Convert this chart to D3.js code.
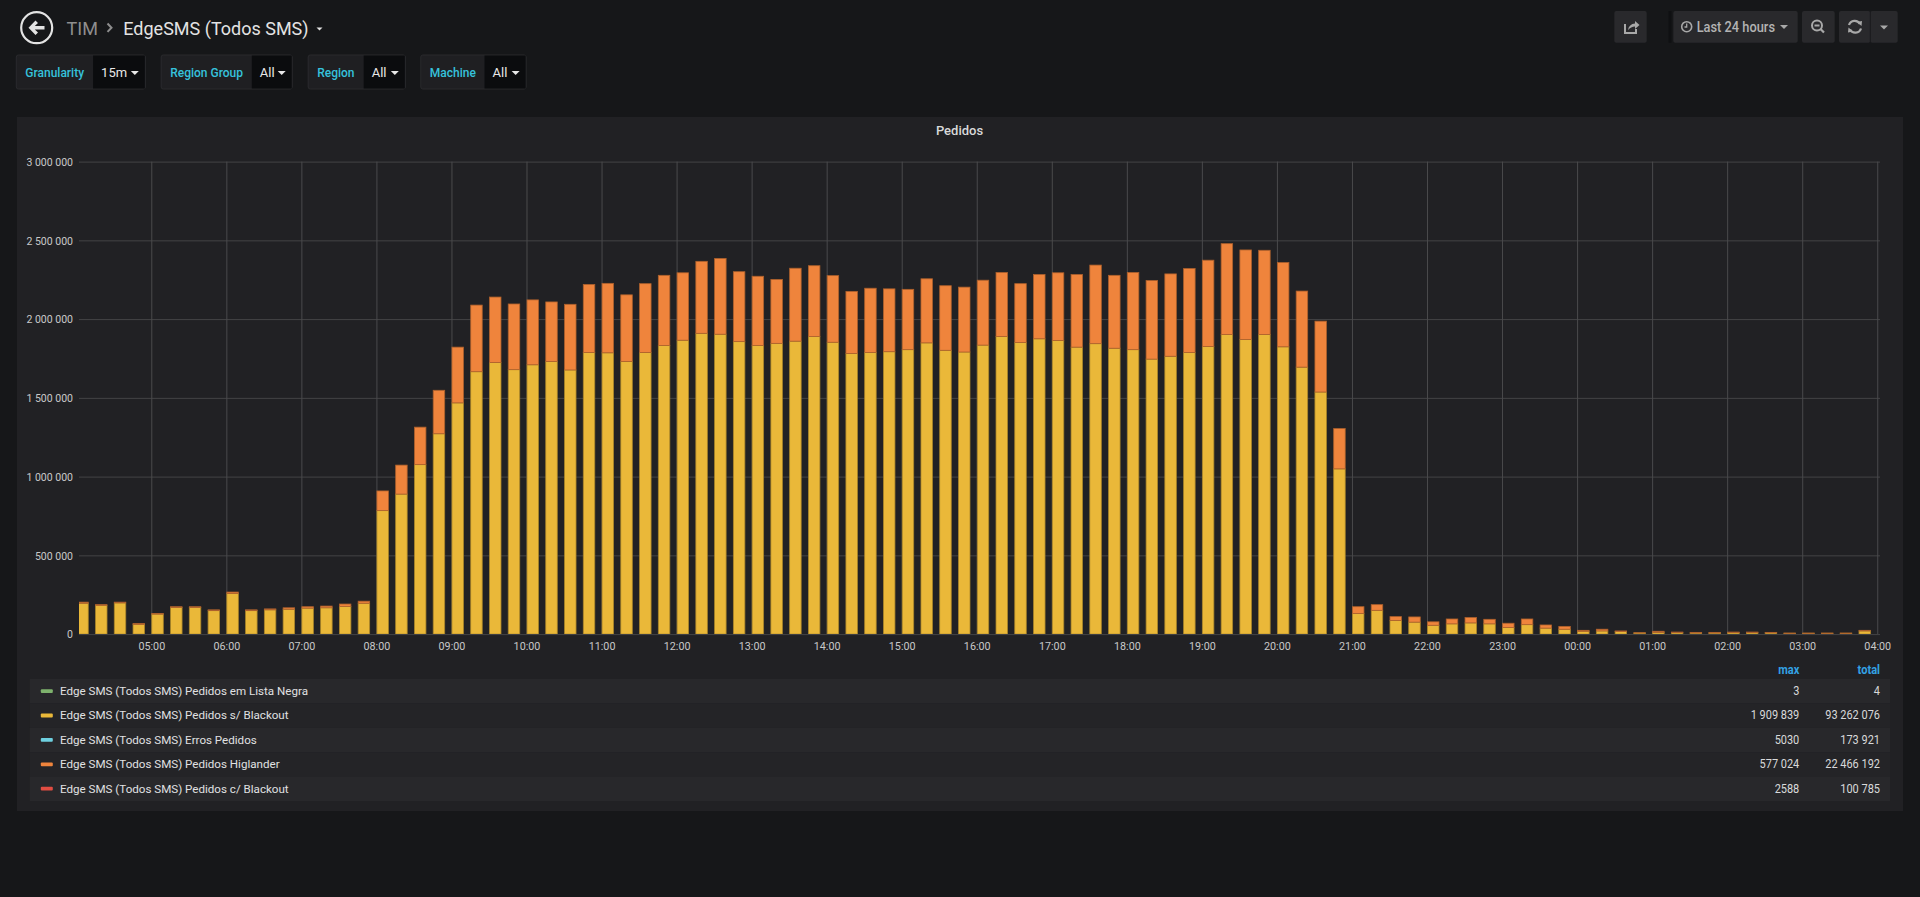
<!DOCTYPE html>
<html>
<head>
<meta charset="utf-8">
<script src="https://cdnjs.cloudflare.com/ajax/libs/d3/7.8.5/d3.min.js"></script>
<style>
  html, body { margin: 0; padding: 0; background: #161719; overflow: hidden; }
  text { font-family: Roboto, "Open Sans", sans-serif; }
</style>
</head>
<body>
<script>
// 15 minute buckets, 04:00 -> 03:45 next day, values in thousands
var UNIT = 1000;
var semBlackout = [196, 183, 198, 62, 127, 169, 169, 149, 258, 149, 154, 158, 165, 167, 176, 196,
  784, 889, 1076, 1272, 1468, 1666, 1724, 1679, 1710, 1731, 1677, 1788, 1786, 1731, 1788, 1833,
  1866, 1909.8, 1904, 1857, 1833, 1846, 1860, 1889, 1853, 1782, 1788, 1793, 1806, 1849, 1802, 1791,
  1835, 1889, 1851, 1875, 1864, 1822, 1844, 1815, 1806, 1746, 1764, 1788, 1826, 1902, 1871, 1902,
  1824, 1695, 1537, 1049, 131, 151, 87, 76, 56, 65, 71, 65, 42, 60, 38, 31,
  18, 20, 16, 7, 11, 9, 7, 7, 9, 9, 8, 5, 5, 5, 5, 20];
var higlander = [7, 4, 5, 5, 4, 5, 5, 5, 9, 5, 6, 9, 9, 11, 15, 13,
  125, 184, 238, 276, 354, 423, 416, 417, 412, 378, 417, 432, 441, 423, 437, 445,
  428, 457, 481, 444, 439, 406, 463, 450, 423, 394, 408, 399, 383, 407, 410, 412,
  412, 407, 374, 408, 430, 461, 499, 463, 490, 499, 523, 533, 548, 577, 568, 535,
  535, 483, 450, 256, 43, 36, 24, 33, 22, 31, 34, 29, 27, 36, 20, 18,
  6, 11, 4, 2, 7, 4, 4, 4, 4, 4, 3, 2, 2, 2, 2, 4];

var yTicks = [0, 500000, 1000000, 1500000, 2000000, 2500000, 3000000];

var legendNames = ["Edge SMS (Todos SMS) Pedidos em Lista Negra",
  "Edge SMS (Todos SMS) Pedidos s/ Blackout",
  "Edge SMS (Todos SMS) Erros Pedidos",
  "Edge SMS (Todos SMS) Pedidos Higlander",
  "Edge SMS (Todos SMS) Pedidos c/ Blackout"];
var legendColors = ["#7EB26D", "#EAB839", "#6ED0E0", "#EF843C", "#E24D42"];
var legendMax = [3, 1909839, 5030, 577024, 2588];
var legendTotal = [4, 93262076, 173921, 22466192, 100785];

var variables = [["Granularity", "15m"], ["Region Group", "All"], ["Region", "All"], ["Machine", "All"]];

var W = 1920, H = 897;
var svg = d3.select("body").append("svg").attr("width", W).attr("height", H);

var loc = d3.formatLocale({decimal: ",", thousands: " ", grouping: [3], currency: ["", ""]});
var fmt = loc.format(",");
function fmtShort(v) { return v < 10000 ? String(v) : fmt(v); }

function squeeze(sel, f) {
  sel.each(function() {
    var L = this.getComputedTextLength();
    d3.select(this).attr("textLength", L * f).attr("lengthAdjust", "spacingAndGlyphs");
  });
}

// ---------- header ----------
var hdr = svg.append("g");
hdr.append("circle").attr("cx", 36.7).attr("cy", 27.7).attr("r", 15.5)
  .attr("fill", "none").attr("stroke", "#e3e3e3").attr("stroke-width", 2.2);
hdr.append("path")
  .attr("d", "M28.5,27.7 L35.5,20.5 L38,23 L34.8,26 L44.5,26 L44.5,29.4 L34.8,29.4 L38,32.4 L35.5,34.9 Z")
  .attr("fill", "#e3e3e3");
hdr.append("text").attr("x", 66.5).attr("y", 28).attr("dominant-baseline", "central")
  .attr("font-size", 18).attr("fill", "#8e8e8e").text("TIM");
hdr.append("path").attr("d", "M107.5,23.5 L111.5,27.7 L107.5,31.9").attr("fill", "none")
  .attr("stroke", "#8e8e8e").attr("stroke-width", 2);
hdr.append("text").attr("x", 123.3).attr("y", 28).attr("dominant-baseline", "central")
  .attr("font-size", 18).attr("fill", "#e3e3e3").text("EdgeSMS (Todos SMS)");
hdr.append("path").attr("d", "M316.5,27.5 L322.5,27.5 L319.5,30.5 Z").attr("fill", "#e3e3e3");

// template variables
var varPos = [[16.3, 93.1, 145.3], [161.2, 251.8, 292.2], [308.2, 363.7, 405.3], [420.8, 484.5, 526.1]];
variables.forEach(function(v, i) {
  var p = varPos[i];
  var g = svg.append("g");
  g.append("rect").attr("x", p[0]).attr("y", 55).attr("width", p[2] - p[0]).attr("height", 34)
    .attr("rx", 2).attr("fill", "#1f1f22").attr("stroke", "#2a2a2d");
  g.append("rect").attr("x", p[1]).attr("y", 55.5).attr("width", p[2] - p[1] - 0.5).attr("height", 33)
    .attr("fill", "#0b0c0e");
  g.append("text").attr("x", p[0] + 9).attr("y", 72.7).attr("dominant-baseline", "central")
    .attr("font-size", 12).attr("font-weight", 500).attr("fill", "#36c2dc").text(v[0]);
  g.append("text").attr("x", p[1] + 8).attr("y", 72.7).attr("dominant-baseline", "central")
    .attr("font-size", 13).attr("fill", "#e8e8e8").text(v[1]);
  var cx = p[2] - 10.5;
  g.append("path").attr("d", "M" + (cx - 4) + ",71 L" + (cx + 4) + ",71 L" + cx + ",75 Z").attr("fill", "#e8e8e8");
});

// top-right buttons
var btns = [[1614.3, 1646.7], [1673.3, 1797.7], [1802, 1834.7], [1839, 1870.3], [1870.3, 1897.7]];
btns.forEach(function(b) {
  svg.append("rect").attr("x", b[0]).attr("y", 11).attr("width", b[1] - b[0]).attr("height", 31.7)
    .attr("rx", 2).attr("fill", "#29292c");
});
svg.append("rect").attr("x", 1668.5).attr("y", 11).attr("width", 3).attr("height", 31.7).attr("fill", "#0f1012");
svg.append("line").attr("x1", 1870.3).attr("x2", 1870.3).attr("y1", 11).attr("y2", 42.7).attr("stroke", "#1b1b1e");
var ic = "#a8a8a8";
// share icon
svg.append("path").attr("d", "M1625,24 L1625,33 L1636,33 L1636,29").attr("fill", "none").attr("stroke", ic).attr("stroke-width", 2);
svg.append("path").attr("d", "M1628,30 Q1629,24 1635,23.5 L1635,21 L1639.5,25 L1635,29 L1635,26.5 Q1631,26.5 1628,30 Z").attr("fill", ic);
// clock
svg.append("circle").attr("cx", 1686.7).attr("cy", 26.7).attr("r", 5).attr("fill", "none").attr("stroke", ic).attr("stroke-width", 1.6);
svg.append("path").attr("d", "M1686.7,23.5 L1686.7,27 L1684.5,27").attr("fill", "none").attr("stroke", ic).attr("stroke-width", 1.3);
svg.append("text").attr("x", 1696.7).attr("y", 27).attr("dominant-baseline", "central")
  .attr("font-size", 14.5).attr("font-weight", 500).attr("fill", "#b3b3b3").text("Last 24 hours")
  .attr("textLength", 78.3).attr("lengthAdjust", "spacingAndGlyphs");
svg.append("path").attr("d", "M1780,25 L1788,25 L1784,29 Z").attr("fill", ic);
// zoom out
svg.append("circle").attr("cx", 1817).attr("cy", 25.5).attr("r", 5).attr("fill", "none").attr("stroke", ic).attr("stroke-width", 2);
svg.append("path").attr("d", "M1814.5,25.5 L1819.5,25.5 M1820.5,29 L1824,32.5").attr("stroke", ic).attr("stroke-width", 2.2);
// refresh
svg.append("path").attr("d", "M1849,25 A6,6 0 0 1 1860,24 M1861,28.5 A6,6 0 0 1 1850,29.5").attr("fill", "none").attr("stroke", ic).attr("stroke-width", 2.2);
svg.append("path").attr("d", "M1857,22 L1862,21 L1861.5,26 Z M1853,31.5 L1848,32.5 L1848.5,27.5 Z").attr("fill", ic);
svg.append("path").attr("d", "M1880,25.5 L1888,25.5 L1884,29.5 Z").attr("fill", ic);

// ---------- panel ----------
svg.append("rect").attr("x", 17).attr("y", 117).attr("width", 1886).attr("height", 694).attr("fill", "#212124");
svg.append("text").attr("x", 959.5).attr("y", 130.4).attr("dominant-baseline", "central").attr("text-anchor", "middle")
  .attr("font-size", 13).attr("font-weight", 500).attr("fill", "#d8d9da").text("Pedidos");

var plot = {left: 79, right: 1880, top: 161.6, bottom: 634.1};
var t0 = new Date(2018, 0, 1, 4, 0);
var step = 15 * 60 * 1000;
var times = semBlackout.map(function(d, i) { return new Date(t0.getTime() + i * step); });
var offset = 2.2 * 60 * 1000;

var x = d3.scaleTime()
  .domain([new Date(t0.getTime() + offset), new Date(t0.getTime() + offset + 24 * 3600 * 1000)])
  .range([plot.left, plot.right]);
var y = d3.scaleLinear().domain([0, 3000000]).range([plot.bottom, plot.top]);

// grid
var gridY = svg.append("g").attr("transform", "translate(" + plot.left + ",0)")
  .call(d3.axisLeft(y).tickValues(yTicks).tickSize(-(plot.right - plot.left)).tickFormat(function(d) { return fmt(d); }));
gridY.select(".domain").remove();
gridY.selectAll("line").attr("stroke", "#444446");
gridY.selectAll("text").attr("x", -6).attr("font-size", 11.7).attr("fill", "#c8c8c8")
  .attr("font-family", "Roboto, sans-serif").call(squeeze, 0.9);

var gridX = svg.append("g").attr("transform", "translate(0," + plot.bottom + ")")
  .call(d3.axisBottom(x).ticks(d3.timeHour.every(1)).tickSize(-(plot.bottom - plot.top)).tickFormat(d3.timeFormat("%H:%M")));
gridX.select(".domain").remove();
gridX.selectAll("line").attr("stroke", "#4a4a4c");
gridX.selectAll("text").attr("y", 12.5).attr("dy", "0.32em").attr("font-size", 11.7).attr("fill", "#c8c8c8")
  .attr("font-family", "Roboto, sans-serif").call(squeeze, 0.92);

// bars
svg.append("clipPath").attr("id", "clip").append("rect")
  .attr("x", plot.left).attr("y", plot.top - 2).attr("width", plot.right - plot.left).attr("height", plot.bottom - plot.top + 2);

var rows = times.map(function(t, i) {
  return {t: t, s: semBlackout[i] * UNIT, h: higlander[i] * UNIT};
});
var stack = d3.stack().keys(["s", "h"])(rows);
var barColors = {s: "#EAB839", h: "#EF843C"};
var barW = (x(new Date(t0.getTime() + step)) - x(t0)) / 1.5;

var bars = svg.append("g").attr("clip-path", "url(#clip)");
stack.forEach(function(layer) {
  var c = barColors[layer.key];
  bars.append("g").selectAll("rect").data(layer).join("rect")
    .attr("x", function(d) { return x(d.data.t) + 0.5; })
    .attr("y", function(d) { return y(d[1]); })
    .attr("width", barW - 1)
    .attr("height", function(d) { return Math.max(0, y(d[0]) - y(d[1])); })
    .attr("fill", c)
    .attr("stroke", d3.color(c).darker(0.9))
    .attr("stroke-width", 0.8);
});

// ---------- legend ----------
var lg = svg.append("g");
lg.append("text").attr("x", 1799.3).attr("y", 669.5).attr("text-anchor", "end").attr("dominant-baseline", "central")
  .attr("font-size", 12).attr("font-weight", 700).attr("fill", "#33a2e5").text("max").call(squeeze, 0.92);
lg.append("text").attr("x", 1880).attr("y", 669.5).attr("text-anchor", "end").attr("dominant-baseline", "central")
  .attr("font-size", 12).attr("font-weight", 700).attr("fill", "#33a2e5").text("total").call(squeeze, 0.92);

legendNames.forEach(function(n, i) {
  var ry = 679 + i * 24.4;
  var cy = ry + 12;
  lg.append("rect").attr("x", 29.8).attr("y", ry).attr("width", 1890 - 29.8).attr("height", 24.4)
    .attr("fill", i % 2 === 0 ? "#28282b" : "#242427");
  lg.append("rect").attr("x", 40.8).attr("y", cy - 1.8).attr("width", 12).attr("height", 3.8).attr("rx", 1)
    .attr("fill", legendColors[i]);
  lg.append("text").attr("x", 60).attr("y", cy).attr("dominant-baseline", "central")
    .attr("font-size", 11.6).attr("fill", "#e0e1e2").text(n);
  lg.append("text").attr("x", 1799.3).attr("y", cy).attr("text-anchor", "end").attr("dominant-baseline", "central")
    .attr("font-size", 12.2).attr("fill", "#d8d9da").text(fmtShort(legendMax[i])).call(squeeze, 0.9);
  lg.append("text").attr("x", 1880).attr("y", cy).attr("text-anchor", "end").attr("dominant-baseline", "central")
    .attr("font-size", 12.2).attr("fill", "#d8d9da").text(fmtShort(legendTotal[i])).call(squeeze, 0.9);
});
</script>
</body>
</html>
